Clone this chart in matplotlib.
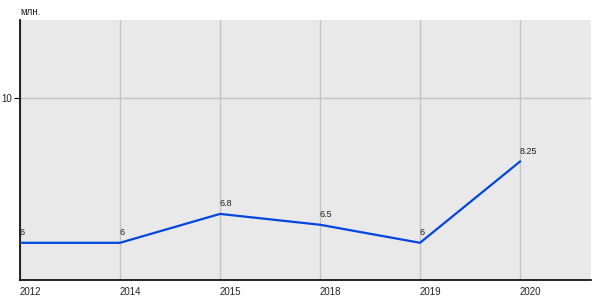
import matplotlib
matplotlib.use("Agg")
import matplotlib.pyplot as plt

# data
years = ["2012", "2014", "2015", "2018", "2019", "2020"]
values = [6, 6, 6.8, 6.5, 6, 8.25]
labels = ["6", "6", "6.8", "6.5", "6", "8.25"]

plt.rcParams["font.family"] = ["Liberation Sans", "DejaVu Sans"]

fig = plt.figure(figsize=(6, 3), dpi=100)
ax = fig.add_axes([20 / 600, 20 / 300, 571 / 600, 260 / 300])
ax.set_facecolor("#e9e9e9")

x = list(range(len(years)))
ax.plot(x, values, color="#0046e0", linewidth=1.6, zorder=3)

for xi, v, lab in zip(x, values, labels):
    ax.annotate(lab, (xi, v), xytext=(0, 4), textcoords="offset points",
                ha="left", va="bottom", fontsize=6.5, color="#222222")

ax.set_xlim(0, 5.71)
ax.set_ylim(4.97, 12.17)

ax.set_xticks(x)
ax.set_xticklabels(years, ha="left", fontsize=7, color="#222222")
ax.set_yticks([10])
ax.set_yticklabels(["10"], fontsize=7, color="#222222")
ax.tick_params(axis="x", length=0, pad=5)
ax.tick_params(axis="y", length=4, width=0.8, pad=2)

ax.grid(True, color="#c4c4c4", linewidth=1, zorder=1)
ax.set_axisbelow(True)

for s in ["top", "right"]:
    ax.spines[s].set_visible(False)
for s in ["left", "bottom"]:
    ax.spines[s].set_color("black")
    ax.spines[s].set_linewidth(1.2)

fig.text(20 / 600, 1 - 12 / 300, "млн.", fontsize=7, color="#222222",
         ha="left", va="center")

fig.savefig("out.png", dpi=100)
